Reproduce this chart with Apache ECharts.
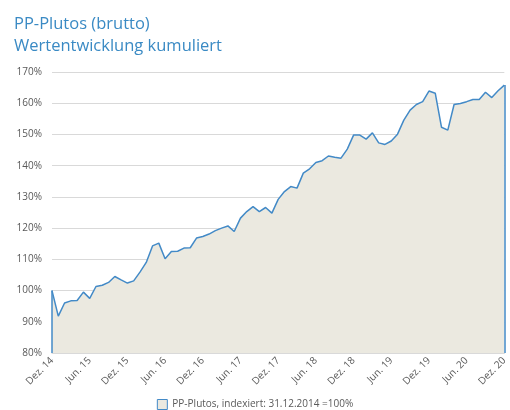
<!DOCTYPE html>
<html>
<head>
<meta charset="utf-8">
<script src="https://cdn.jsdelivr.net/npm/echarts@6/dist/echarts.min.js"></script>
<style>
  html, body { margin: 0; padding: 0; background: #fff; }
  #chart { width: 510px; height: 410px; }
</style>
</head>
<body>
<div id="chart"></div>
<script>
// Monatsnamen fuer die Kategorien (Dez. 14 ... Dez. 20)
var monthNames = ['Jan.', 'Feb.', 'Mrz.', 'Apr.', 'Mai.', 'Jun.', 'Jul.', 'Aug.', 'Sep.', 'Okt.', 'Nov.', 'Dez.'];
var startYear = 14, endYear = 20;

var categories = ['Dez. 14'];
for (var y = startYear + 1; y <= endYear; y++) {
  for (var m = 0; m < 12; m++) {
    categories.push(monthNames[m] + ' ' + y);
  }
}

// Wertentwicklung in % (31.12.2014 = 100%)
var values = [
  100,
  91.8, 96.0, 96.7, 96.8, 99.5, 97.5, 101.3, 101.7, 102.6, 104.5, 103.4, 102.4,
  103.1, 105.9, 109.0, 114.3, 115.2, 110.2, 112.5, 112.6, 113.6, 113.7, 116.8, 117.3,
  118.1, 119.2, 120.0, 120.7, 118.9, 123.2, 125.3, 126.9, 125.3, 126.6, 124.8, 129.2,
  131.7, 133.3, 132.8, 137.6, 139.0, 141.0, 141.6, 143.1, 142.7, 142.4, 145.3, 149.8,
  149.8, 148.5, 150.5, 147.3, 146.8, 147.9, 150.1, 154.6, 157.8, 159.6, 160.5, 163.9,
  163.2, 152.3, 151.4, 159.6, 159.9, 160.5, 161.2, 161.2, 163.5, 161.8, 164.0, 165.8
];

var yMin = 80, yMax = 170, yStep = 10;
var seriesName = 'PP-Plutos, indexiert: 31.12.2014 =100%';

var lineColor = '#438ac7';
var last = values.length - 1;

var chart = echarts.init(document.getElementById('chart'));
chart.setOption({
  animation: false,
  textStyle: { fontFamily: 'Open Sans' },
  title: {
    text: 'PP-Plutos (brutto)\nWertentwicklung kumuliert',
    left: 9,
    top: 8,
    textStyle: {
      color: '#3a8ac4',
      fontSize: 16.5,
      fontWeight: 'normal',
      lineHeight: 22,
      fontFamily: 'Open Sans'
    }
  },
  legend: {
    bottom: 0,
    padding: 0,
    left: 'center',
    icon: 'rect',
    itemWidth: 10,
    itemHeight: 10,
    itemGap: 4,
    textStyle: { color: '#595959', fontSize: 10 },
    data: [{
      name: seriesName,
      itemStyle: { color: '#ebe9e0', borderColor: lineColor, borderWidth: 1 }
    }]
  },
  grid: {
    left: 52,
    right: 3,
    top: 72,
    bottom: 57
  },
  xAxis: {
    type: 'category',
    data: categories,
    boundaryGap: false,
    axisLine: { lineStyle: { color: '#d9d9d9' } },
    axisTick: { show: false },
    axisLabel: {
      interval: 5,
      rotate: 45,
      color: '#595959',
      fontSize: 10,
      margin: 6
    },
    splitLine: { show: false }
  },
  yAxis: {
    type: 'value',
    min: yMin,
    max: yMax,
    interval: yStep,
    axisLine: { show: false },
    axisTick: { show: false },
    axisLabel: {
      color: '#595959',
      fontSize: 10,
      margin: 10,
      formatter: '{value}%'
    },
    splitLine: { lineStyle: { color: '#d9d9d9', width: 1 } }
  },
  series: [{
    name: seriesName,
    type: 'line',
    data: values,
    showSymbol: false,
    symbol: 'none',
    lineStyle: { color: lineColor, width: 1.5 },
    itemStyle: { color: lineColor },
    areaStyle: { color: '#ebe9e0', opacity: 1 },
    markLine: {
      silent: true,
      symbol: 'none',
      label: { show: false },
      lineStyle: { color: lineColor, width: 1.5, type: 'solid' },
      data: [
        [{ coord: [categories[0], yMin] }, { coord: [categories[0], values[0]] }],
        [{ coord: [categories[last], yMin] }, { coord: [categories[last], values[last]] }]
      ]
    }
  }]
});
</script>
</body>
</html>
